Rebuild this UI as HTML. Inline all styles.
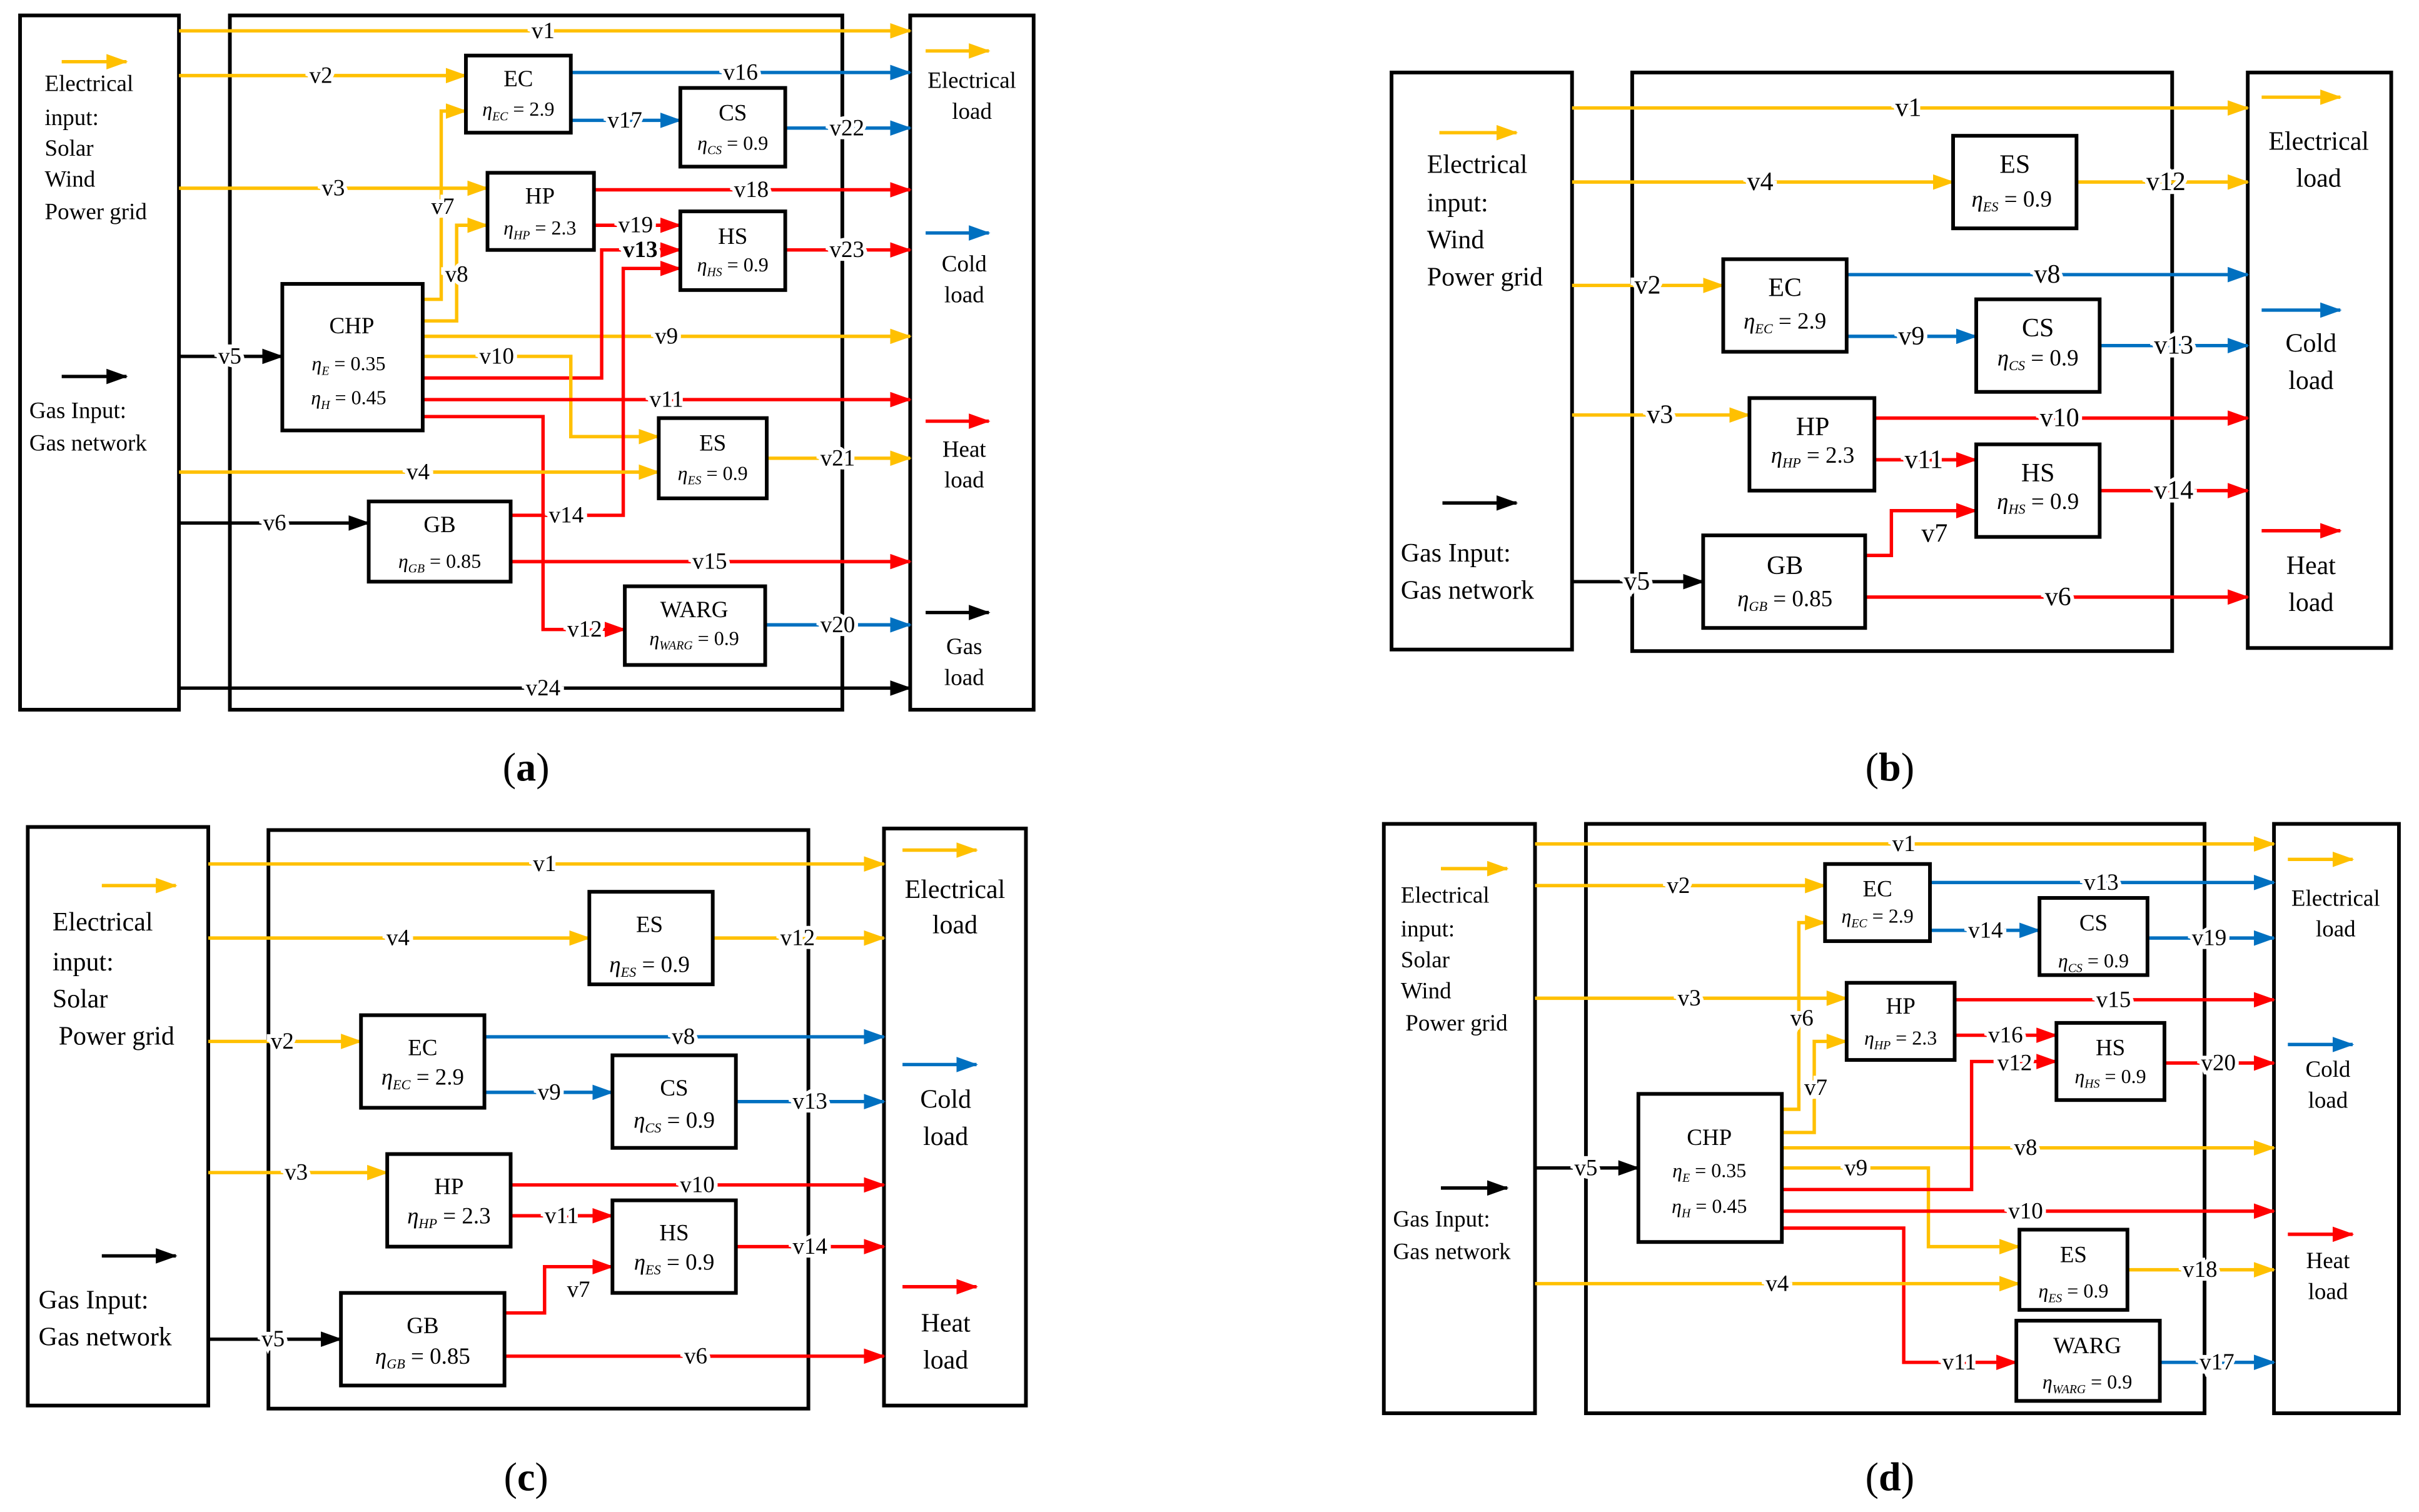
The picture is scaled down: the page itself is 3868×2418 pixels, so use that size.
<!DOCTYPE html>
<html><head><meta charset="utf-8"><style>
html,body{margin:0;padding:0;background:#fff}
svg{display:block}
text{font-family:"Liberation Serif",serif;fill:#000}
.l{paint-order:stroke;stroke:#fff;stroke-width:5px;text-anchor:middle;dominant-baseline:central}
.o{stroke:#FFC000;fill:none;stroke-width:2.2}
.b{stroke:#0070C0;fill:none;stroke-width:2.2}
.r{stroke:#FF0000;fill:none;stroke-width:2.2}
.k{stroke:#000;fill:none;stroke-width:2.2}
.bx{fill:#fff;stroke:#000;stroke-width:2.4}
.c{text-anchor:middle}
</style></head><body>
<svg width="3868" height="2418" viewBox="0 0 1568 980" preserveAspectRatio="none" xmlns="http://www.w3.org/2000/svg">
<defs>
<marker id="mo" markerUnits="userSpaceOnUse" markerWidth="14" markerHeight="10" refX="13" refY="5" orient="auto"><path d="M0,0 L14,5 L0,10z" fill="#FFC000"/></marker>
<marker id="mb" markerUnits="userSpaceOnUse" markerWidth="14" markerHeight="10" refX="13" refY="5" orient="auto"><path d="M0,0 L14,5 L0,10z" fill="#0070C0"/></marker>
<marker id="mr" markerUnits="userSpaceOnUse" markerWidth="14" markerHeight="10" refX="13" refY="5" orient="auto"><path d="M0,0 L14,5 L0,10z" fill="#FF0000"/></marker>
<marker id="mk" markerUnits="userSpaceOnUse" markerWidth="14" markerHeight="10" refX="13" refY="5" orient="auto"><path d="M0,0 L14,5 L0,10z" fill="#000"/></marker>
</defs>

<!-- ================= (a) ================= -->
<g font-size="15">
<rect class="bx" x="13" y="10" width="103" height="450"/>
<rect class="bx" x="149" y="10" width="397" height="450" fill="none" style="fill:none"/>
<rect class="bx" x="590" y="10" width="80" height="450"/>
<path class="o" d="M116 20H590" marker-end="url(#mo)"/>
<path class="o" d="M116 49H302" marker-end="url(#mo)"/>
<path class="b" d="M370 47H590" marker-end="url(#mb)"/>
<path class="b" d="M370 78H441" marker-end="url(#mb)"/>
<path class="b" d="M509 83H590" marker-end="url(#mb)"/>
<path class="o" d="M116 122H316" marker-end="url(#mo)"/>
<path class="r" d="M385 123H590" marker-end="url(#mr)"/>
<path class="r" d="M385 146H441" marker-end="url(#mr)"/>
<path class="r" d="M509 162H590" marker-end="url(#mr)"/>
<path class="o" d="M274 194H286V72H302" marker-end="url(#mo)"/>
<path class="o" d="M274 208H296V146H316" marker-end="url(#mo)"/>
<path class="o" d="M274 218H590" marker-end="url(#mo)"/>
<path class="r" d="M274 245H390V162H441" marker-end="url(#mr)"/>
<path class="o" d="M274 231H370V283H427" marker-end="url(#mo)"/>
<path class="r" d="M274 259H590" marker-end="url(#mr)"/>
<path class="r" d="M274 270H352V408H405" marker-end="url(#mr)"/>
<path class="r" d="M331 334H404V174H441" marker-end="url(#mr)"/>
<path class="o" d="M116 306H427" marker-end="url(#mo)"/>
<path class="o" d="M497 297H590" marker-end="url(#mo)"/>
<path class="k" d="M116 339H239" marker-end="url(#mk)"/>
<path class="r" d="M331 364H590" marker-end="url(#mr)"/>
<path class="b" d="M496 405H590" marker-end="url(#mb)"/>
<path class="k" d="M116 446H590" marker-end="url(#mk)"/>
<path class="k" d="M116 231H183" marker-end="url(#mk)"/>
<text class="l" x="352" y="20">v1</text><text class="l" x="208" y="49">v2</text>
<text class="l" x="480" y="47">v16</text><text class="l" x="405" y="78">v17</text>
<text class="l" x="549" y="83">v22</text><text class="l" x="216" y="122">v3</text>
<text class="l" x="487" y="123">v18</text><text class="l" x="412" y="146">v19</text>
<text class="l" x="549" y="162">v23</text><text class="l" x="287" y="134">v7</text>
<text class="l" x="296" y="178">v8</text><text class="l" x="432" y="218">v9</text>
<text class="l" x="415" y="162" font-weight="bold">v13</text><text class="l" x="322" y="231">v10</text>
<text class="l" x="432" y="259">v11</text><text class="l" x="379" y="408">v12</text>
<text class="l" x="367" y="334">v14</text><text class="l" x="271" y="306">v4</text>
<text class="l" x="543" y="297">v21</text><text class="l" x="178" y="339">v6</text>
<text class="l" x="460" y="364">v15</text><text class="l" x="543" y="405">v20</text>
<text class="l" x="352" y="446">v24</text><text class="l" x="149" y="231">v5</text>
<rect class="bx" x="302" y="36" width="68" height="50"/><text class="c" x="336" y="56">EC</text><text class="c" x="336" y="75" font-size="13"><tspan font-style="italic">η</tspan><tspan font-size="8" font-style="italic" dy="3">EC</tspan><tspan dy="-3"> = 2.9</tspan></text>
<rect class="bx" x="441" y="57" width="68" height="51"/><text class="c" x="475" y="78">CS</text><text class="c" x="475" y="97" font-size="13"><tspan font-style="italic">η</tspan><tspan font-size="8" font-style="italic" dy="3">CS</tspan><tspan dy="-3"> = 0.9</tspan></text>
<rect class="bx" x="316" y="112" width="69" height="50"/><text class="c" x="350" y="132">HP</text><text class="c" x="350" y="152" font-size="13"><tspan font-style="italic">η</tspan><tspan font-size="8" font-style="italic" dy="3">HP</tspan><tspan dy="-3"> = 2.3</tspan></text>
<rect class="bx" x="441" y="137" width="68" height="51"/><text class="c" x="475" y="158">HS</text><text class="c" x="475" y="176" font-size="13"><tspan font-style="italic">η</tspan><tspan font-size="8" font-style="italic" dy="3">HS</tspan><tspan dy="-3"> = 0.9</tspan></text>
<rect class="bx" x="183" y="184" width="91" height="95"/><text class="c" x="228" y="216">CHP</text><text class="c" x="226" y="240" font-size="13"><tspan font-style="italic">η</tspan><tspan font-size="8" font-style="italic" dy="3">E</tspan><tspan dy="-3"> = 0.35</tspan></text><text class="c" x="226" y="262" font-size="13"><tspan font-style="italic">η</tspan><tspan font-size="8" font-style="italic" dy="3">H</tspan><tspan dy="-3"> = 0.45</tspan></text>
<rect class="bx" x="427" y="271" width="70" height="52"/><text class="c" x="462" y="292">ES</text><text class="c" x="462" y="311" font-size="13"><tspan font-style="italic">η</tspan><tspan font-size="8" font-style="italic" dy="3">ES</tspan><tspan dy="-3"> = 0.9</tspan></text>
<rect class="bx" x="239" y="325" width="92" height="52"/><text class="c" x="285" y="345">GB</text><text class="c" x="285" y="368" font-size="13"><tspan font-style="italic">η</tspan><tspan font-size="8" font-style="italic" dy="3">GB</tspan><tspan dy="-3"> = 0.85</tspan></text>
<rect class="bx" x="405" y="380" width="91" height="51"/><text class="c" x="450" y="400">WARG</text><text class="c" x="450" y="418" font-size="13"><tspan font-style="italic">η</tspan><tspan font-size="8" font-style="italic" dy="3">WARG</tspan><tspan dy="-3"> = 0.9</tspan></text>
<path class="o" d="M40 40H82" marker-end="url(#mo)"/>
<text x="29" y="59">Electrical</text><text x="29" y="81">input:</text><text x="29" y="101">Solar</text><text x="29" y="121">Wind</text><text x="29" y="142">Power grid</text>
<path class="k" d="M40 244H82" marker-end="url(#mk)"/>
<text x="19" y="271">Gas Input:</text><text x="19" y="292">Gas network</text>
<path class="o" d="M600 33H641" marker-end="url(#mo)"/><text class="c" x="630" y="57">Electrical</text><text class="c" x="630" y="77">load</text>
<path class="b" d="M600 151H641" marker-end="url(#mb)"/><text class="c" x="625" y="176">Cold</text><text class="c" x="625" y="196">load</text>
<path class="r" d="M600 273H641" marker-end="url(#mr)"/><text class="c" x="625" y="296">Heat</text><text class="c" x="625" y="316">load</text>
<path class="k" d="M600 397H641" marker-end="url(#mk)"/><text class="c" x="625" y="424">Gas</text><text class="c" x="625" y="444">load</text>
</g>
<text class="c" x="341" y="506" font-size="26">(<tspan font-weight="bold">a</tspan>)</text>

<!-- ================= (b) ================= -->
<g font-size="17">
<rect class="bx" x="902" y="47" width="117" height="374"/>
<rect class="bx" x="1058" y="47" width="350" height="375" style="fill:none"/>
<rect class="bx" x="1457" y="47" width="93" height="373"/>
<path class="o" d="M1019 70H1457" marker-end="url(#mo)"/>
<path class="o" d="M1019 118H1266" marker-end="url(#mo)"/>
<path class="o" d="M1346 118H1457" marker-end="url(#mo)"/>
<path class="o" d="M1019 185H1117" marker-end="url(#mo)"/>
<path class="b" d="M1197 178H1457" marker-end="url(#mb)"/>
<path class="b" d="M1197 218H1281" marker-end="url(#mb)"/>
<path class="b" d="M1361 224H1457" marker-end="url(#mb)"/>
<path class="o" d="M1019 269H1134" marker-end="url(#mo)"/>
<path class="r" d="M1215 271H1457" marker-end="url(#mr)"/>
<path class="r" d="M1215 298H1281" marker-end="url(#mr)"/>
<path class="r" d="M1361 318H1457" marker-end="url(#mr)"/>
<path class="r" d="M1209 360H1226V331H1281" marker-end="url(#mr)"/>
<path class="k" d="M1019 377H1104" marker-end="url(#mk)"/>
<path class="r" d="M1209 387H1457" marker-end="url(#mr)"/>
<text class="l" x="1237" y="70">v1</text><text class="l" x="1141" y="118">v4</text><text class="l" x="1404" y="118">v12</text>
<text class="l" x="1068" y="185">v2</text><text class="l" x="1327" y="178">v8</text><text class="l" x="1239" y="218">v9</text>
<text class="l" x="1409" y="224">v13</text><text class="l" x="1076" y="269">v3</text><text class="l" x="1335" y="271">v10</text>
<text class="l" x="1247" y="298">v11</text><text class="l" x="1409" y="318">v14</text><text class="l" x="1254" y="346">v7</text>
<text class="l" x="1061" y="377">v5</text><text class="l" x="1334" y="387">v6</text>
<rect class="bx" x="1266" y="88" width="80" height="60"/><text class="c" x="1306" y="112">ES</text><text class="c" x="1304" y="134" font-size="15"><tspan font-style="italic">η</tspan><tspan font-size="9" font-style="italic" dy="3">ES</tspan><tspan dy="-3"> = 0.9</tspan></text>
<rect class="bx" x="1117" y="168" width="80" height="60"/><text class="c" x="1157" y="192">EC</text><text class="c" x="1157" y="213" font-size="15"><tspan font-style="italic">η</tspan><tspan font-size="9" font-style="italic" dy="3">EC</tspan><tspan dy="-3"> = 2.9</tspan></text>
<rect class="bx" x="1281" y="194" width="80" height="60"/><text class="c" x="1321" y="218">CS</text><text class="c" x="1321" y="237" font-size="15"><tspan font-style="italic">η</tspan><tspan font-size="9" font-style="italic" dy="3">CS</tspan><tspan dy="-3"> = 0.9</tspan></text>
<rect class="bx" x="1134" y="258" width="81" height="60"/><text class="c" x="1175" y="282">HP</text><text class="c" x="1175" y="300" font-size="15"><tspan font-style="italic">η</tspan><tspan font-size="9" font-style="italic" dy="3">HP</tspan><tspan dy="-3"> = 2.3</tspan></text>
<rect class="bx" x="1281" y="288" width="80" height="60"/><text class="c" x="1321" y="312">HS</text><text class="c" x="1321" y="330" font-size="15"><tspan font-style="italic">η</tspan><tspan font-size="9" font-style="italic" dy="3">HS</tspan><tspan dy="-3"> = 0.9</tspan></text>
<rect class="bx" x="1104" y="347" width="105" height="60"/><text class="c" x="1157" y="372">GB</text><text class="c" x="1157" y="393" font-size="15"><tspan font-style="italic">η</tspan><tspan font-size="9" font-style="italic" dy="3">GB</tspan><tspan dy="-3"> = 0.85</tspan></text>
<path class="o" d="M933 86H983" marker-end="url(#mo)"/>
<text x="925" y="112">Electrical</text><text x="925" y="137">input:</text><text x="925" y="161">Wind</text><text x="925" y="185">Power grid</text>
<path class="k" d="M935 326H983" marker-end="url(#mk)"/>
<text x="908" y="364">Gas Input:</text><text x="908" y="388">Gas network</text>
<path class="o" d="M1466 63H1517" marker-end="url(#mo)"/><text class="c" x="1503" y="97">Electrical</text><text class="c" x="1503" y="121">load</text>
<path class="b" d="M1466 201H1517" marker-end="url(#mb)"/><text class="c" x="1498" y="228">Cold</text><text class="c" x="1498" y="252">load</text>
<path class="r" d="M1466 344H1517" marker-end="url(#mr)"/><text class="c" x="1498" y="372">Heat</text><text class="c" x="1498" y="396">load</text>
</g>
<text class="c" x="1225" y="506" font-size="26">(<tspan font-weight="bold">b</tspan>)</text>

<!-- ================= (c) ================= -->
<g font-size="17">
<rect class="bx" x="18" y="536" width="117" height="375"/>
<rect class="bx" x="174" y="538" width="350" height="375" style="fill:none"/>
<rect class="bx" x="573" y="537" width="92" height="374"/>
<path class="o" d="M135 560H573" marker-end="url(#mo)"/>
<path class="o" d="M135 608H382" marker-end="url(#mo)"/>
<path class="o" d="M462 608H573" marker-end="url(#mo)"/>
<path class="o" d="M135 675H234" marker-end="url(#mo)"/>
<path class="b" d="M314 672H573" marker-end="url(#mb)"/>
<path class="b" d="M314 708H397" marker-end="url(#mb)"/>
<path class="b" d="M477 714H573" marker-end="url(#mb)"/>
<path class="o" d="M135 760H251" marker-end="url(#mo)"/>
<path class="r" d="M331 768H573" marker-end="url(#mr)"/>
<path class="r" d="M331 788H397" marker-end="url(#mr)"/>
<path class="r" d="M477 808H573" marker-end="url(#mr)"/>
<path class="r" d="M327 851H353V821H397" marker-end="url(#mr)"/>
<path class="k" d="M135 868H221" marker-end="url(#mk)"/>
<path class="r" d="M327 879H573" marker-end="url(#mr)"/>
<g font-size="15">
<text class="l" x="353" y="560">v1</text><text class="l" x="258" y="608">v4</text><text class="l" x="517" y="608">v12</text>
<text class="l" x="183" y="675">v2</text><text class="l" x="443" y="672">v8</text><text class="l" x="356" y="708">v9</text>
<text class="l" x="525" y="714">v13</text><text class="l" x="192" y="760">v3</text><text class="l" x="452" y="768">v10</text>
<text class="l" x="364" y="788">v11</text><text class="l" x="525" y="808">v14</text><text class="l" x="375" y="836">v7</text>
<text class="l" x="177" y="868">v5</text><text class="l" x="451" y="879">v6</text>
</g>
<rect class="bx" x="382" y="578" width="80" height="60"/><text class="c" x="421" y="604" font-size="15">ES</text><text class="c" x="421" y="630" font-size="15"><tspan font-style="italic">η</tspan><tspan font-size="9" font-style="italic" dy="3">ES</tspan><tspan dy="-3"> = 0.9</tspan></text>
<rect class="bx" x="234" y="658" width="80" height="60"/><text class="c" x="274" y="684" font-size="15">EC</text><text class="c" x="274" y="703" font-size="15"><tspan font-style="italic">η</tspan><tspan font-size="9" font-style="italic" dy="3">EC</tspan><tspan dy="-3"> = 2.9</tspan></text>
<rect class="bx" x="397" y="684" width="80" height="60"/><text class="c" x="437" y="710" font-size="15">CS</text><text class="c" x="437" y="731" font-size="15"><tspan font-style="italic">η</tspan><tspan font-size="9" font-style="italic" dy="3">CS</tspan><tspan dy="-3"> = 0.9</tspan></text>
<rect class="bx" x="251" y="748" width="80" height="60"/><text class="c" x="291" y="774" font-size="15">HP</text><text class="c" x="291" y="793" font-size="15"><tspan font-style="italic">η</tspan><tspan font-size="9" font-style="italic" dy="3">HP</tspan><tspan dy="-3"> = 2.3</tspan></text>
<rect class="bx" x="397" y="778" width="80" height="60"/><text class="c" x="437" y="804" font-size="15">HS</text><text class="c" x="437" y="823" font-size="15"><tspan font-style="italic">η</tspan><tspan font-size="9" font-style="italic" dy="3">ES</tspan><tspan dy="-3"> = 0.9</tspan></text>
<rect class="bx" x="221" y="838" width="106" height="60"/><text class="c" x="274" y="864" font-size="15">GB</text><text class="c" x="274" y="884" font-size="15"><tspan font-style="italic">η</tspan><tspan font-size="9" font-style="italic" dy="3">GB</tspan><tspan dy="-3"> = 0.85</tspan></text>
<path class="o" d="M66 574H114" marker-end="url(#mo)"/>
<text x="34" y="603">Electrical</text><text x="34" y="629">input:</text><text x="34" y="653">Solar</text><text x="38" y="677">Power grid</text>
<path class="k" d="M66 814H114" marker-end="url(#mk)"/>
<text x="25" y="848">Gas Input:</text><text x="25" y="872">Gas network</text>
<path class="o" d="M585 551H633" marker-end="url(#mo)"/><text class="c" x="619" y="582">Electrical</text><text class="c" x="619" y="605">load</text>
<path class="b" d="M585 690H633" marker-end="url(#mb)"/><text class="c" x="613" y="718">Cold</text><text class="c" x="613" y="742">load</text>
<path class="r" d="M585 834H633" marker-end="url(#mr)"/><text class="c" x="613" y="863">Heat</text><text class="c" x="613" y="887">load</text>
</g>
<text class="c" x="341" y="966" font-size="26">(<tspan font-weight="bold">c</tspan>)</text>

<!-- ================= (d) ================= -->
<g font-size="15">
<rect class="bx" x="897" y="534" width="98" height="382"/>
<rect class="bx" x="1028" y="534" width="401" height="382" style="fill:none"/>
<rect class="bx" x="1474" y="534" width="81" height="382"/>
<path class="o" d="M995 547H1474" marker-end="url(#mo)"/>
<path class="o" d="M995 574H1183" marker-end="url(#mo)"/>
<path class="b" d="M1251 572H1474" marker-end="url(#mb)"/>
<path class="b" d="M1251 603H1322" marker-end="url(#mb)"/>
<path class="b" d="M1392 608H1474" marker-end="url(#mb)"/>
<path class="o" d="M995 647H1197" marker-end="url(#mo)"/>
<path class="r" d="M1267 648H1474" marker-end="url(#mr)"/>
<path class="r" d="M1267 671H1333" marker-end="url(#mr)"/>
<path class="r" d="M1403 689H1474" marker-end="url(#mr)"/>
<path class="o" d="M1155 719H1166V598H1183" marker-end="url(#mo)"/>
<path class="o" d="M1155 734H1176V675H1197" marker-end="url(#mo)"/>
<path class="o" d="M1155 744H1474" marker-end="url(#mo)"/>
<path class="o" d="M1155 757H1250V808H1309" marker-end="url(#mo)"/>
<path class="r" d="M1155 771H1278V688H1333" marker-end="url(#mr)"/>
<path class="r" d="M1155 785H1474" marker-end="url(#mr)"/>
<path class="r" d="M1155 796H1234V883H1307" marker-end="url(#mr)"/>
<path class="o" d="M995 832H1309" marker-end="url(#mo)"/>
<path class="o" d="M1379 823H1474" marker-end="url(#mo)"/>
<path class="b" d="M1400 883H1474" marker-end="url(#mb)"/>
<path class="k" d="M995 757H1062" marker-end="url(#mk)"/>
<text class="l" x="1234" y="547">v1</text><text class="l" x="1088" y="574">v2</text><text class="l" x="1362" y="572">v13</text>
<text class="l" x="1287" y="603">v14</text><text class="l" x="1432" y="608">v19</text><text class="l" x="1095" y="647">v3</text>
<text class="l" x="1370" y="648">v15</text><text class="l" x="1300" y="671">v16</text><text class="l" x="1438" y="689">v20</text>
<text class="l" x="1168" y="660">v6</text><text class="l" x="1177" y="705">v7</text><text class="l" x="1313" y="744">v8</text>
<text class="l" x="1306" y="689">v12</text><text class="l" x="1203" y="757">v9</text><text class="l" x="1313" y="785">v10</text>
<text class="l" x="1270" y="883">v11</text><text class="l" x="1152" y="832">v4</text><text class="l" x="1426" y="823">v18</text>
<text class="l" x="1437" y="883">v17</text><text class="l" x="1028" y="757">v5</text>
<rect class="bx" x="1183" y="560" width="68" height="50"/><text class="c" x="1217" y="581">EC</text><text class="c" x="1217" y="598" font-size="13"><tspan font-style="italic">η</tspan><tspan font-size="8" font-style="italic" dy="3">EC</tspan><tspan dy="-3"> = 2.9</tspan></text>
<rect class="bx" x="1322" y="582" width="70" height="50"/><text class="c" x="1357" y="603">CS</text><text class="c" x="1357" y="627" font-size="13"><tspan font-style="italic">η</tspan><tspan font-size="8" font-style="italic" dy="3">CS</tspan><tspan dy="-3"> = 0.9</tspan></text>
<rect class="bx" x="1197" y="637" width="70" height="50"/><text class="c" x="1232" y="657">HP</text><text class="c" x="1232" y="677" font-size="13"><tspan font-style="italic">η</tspan><tspan font-size="8" font-style="italic" dy="3">HP</tspan><tspan dy="-3"> = 2.3</tspan></text>
<rect class="bx" x="1333" y="663" width="70" height="50"/><text class="c" x="1368" y="684">HS</text><text class="c" x="1368" y="702" font-size="13"><tspan font-style="italic">η</tspan><tspan font-size="8" font-style="italic" dy="3">HS</tspan><tspan dy="-3"> = 0.9</tspan></text>
<rect class="bx" x="1062" y="709" width="93" height="96"/><text class="c" x="1108" y="742">CHP</text><text class="c" x="1108" y="763" font-size="13"><tspan font-style="italic">η</tspan><tspan font-size="8" font-style="italic" dy="3">E</tspan><tspan dy="-3"> = 0.35</tspan></text><text class="c" x="1108" y="786" font-size="13"><tspan font-style="italic">η</tspan><tspan font-size="8" font-style="italic" dy="3">H</tspan><tspan dy="-3"> = 0.45</tspan></text>
<rect class="bx" x="1309" y="797" width="70" height="52"/><text class="c" x="1344" y="818">ES</text><text class="c" x="1344" y="841" font-size="13"><tspan font-style="italic">η</tspan><tspan font-size="8" font-style="italic" dy="3">ES</tspan><tspan dy="-3"> = 0.9</tspan></text>
<rect class="bx" x="1307" y="856" width="93" height="52"/><text class="c" x="1353" y="877">WARG</text><text class="c" x="1353" y="900" font-size="13"><tspan font-style="italic">η</tspan><tspan font-size="8" font-style="italic" dy="3">WARG</tspan><tspan dy="-3"> = 0.9</tspan></text>
<path class="o" d="M934 563H977" marker-end="url(#mo)"/>
<text x="908" y="585">Electrical</text><text x="908" y="607">input:</text><text x="908" y="627">Solar</text><text x="908" y="647">Wind</text><text x="911" y="668">Power grid</text>
<path class="k" d="M934 770H977" marker-end="url(#mk)"/>
<text x="903" y="795">Gas Input:</text><text x="903" y="816">Gas network</text>
<path class="o" d="M1483 557H1525" marker-end="url(#mo)"/><text class="c" x="1514" y="587">Electrical</text><text class="c" x="1514" y="607">load</text>
<path class="b" d="M1483 677H1525" marker-end="url(#mb)"/><text class="c" x="1509" y="698">Cold</text><text class="c" x="1509" y="718">load</text>
<path class="r" d="M1483 800H1525" marker-end="url(#mr)"/><text class="c" x="1509" y="822">Heat</text><text class="c" x="1509" y="842">load</text>
</g>
<text class="c" x="1225" y="966" font-size="26">(<tspan font-weight="bold">d</tspan>)</text>
</svg>
</body></html>
